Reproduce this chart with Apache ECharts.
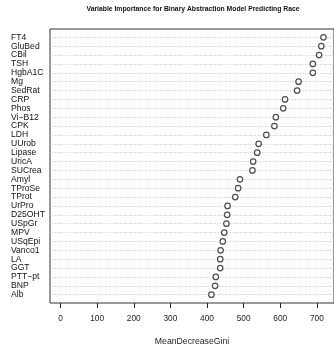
<!DOCTYPE html>
<html>
<head>
<meta charset="utf-8">
<script src="https://cdn.jsdelivr.net/npm/echarts@6/dist/echarts.min.js"></script>
<style>html,body{margin:0;padding:0;background:#fff;}#c{width:334px;height:356px;}</style>
</head>
<body>
<div id="c"></div>
<script>
var variables = ["FT4","GluBed","CBil","TSH","HgbA1C","Mg","SedRat","CRP","Phos","Vi\u2212B12","CPK","LDH","UUrob","Lipase","UricA","SUCrea","Amyl","TProSe","TProt","UrPro","D25OHT","USpGr","MPV","USqEpi","Vanco1","LA","GGT","PTT\u2212pt","BNP","Alb"];
var giniValues = [718,712,706,689,689,650,646,613,608,588,584,562,541,537,526,524,490,485,477,456,455,453,447,443,437,436,436,424,422,412];
var xTicks = [0,100,200,300,400,500,600,700];
var titleText = "Variable Importance for Binary Abstraction Model Predicting Race";
var xAxisTitle = "MeanDecreaseGini";

var xMax = Math.max.apply(null, giniValues);
var xMinExt = -0.04 * xMax, xMaxExt = xMax * 1.04;
var font = "Liberation Sans, Arial, Helvetica, sans-serif";

var chart = echarts.init(document.getElementById('c'), null, {renderer: 'canvas'});
chart.setOption({
  animation: false,
  backgroundColor: '#fff',
  title: {
    text: titleText, left: 188, top: 1, textAlign: 'center',
    textStyle: {fontFamily: font, fontSize: 6.8, fontWeight: 'bold', color: '#111'}
  },
  grid: [
    {left: 50, top: 29, width: 288, height: 274, show: true, borderColor: '#333', borderWidth: 1, backgroundColor: 'transparent'},
    {left: 50, top: 37.3, width: 288, height: 257.4}
  ],
  xAxis: [
    {gridIndex: 0, type: 'value', min: xMinExt, max: xMaxExt, position: 'bottom',
     axisLine: {show: false},
     axisTick: {show: true, length: 5, inside: false, customValues: xTicks, lineStyle: {color: '#222'}},
     axisLabel: {show: true, customValues: xTicks, margin: 12, fontFamily: font, fontSize: 8.3, color: '#222'},
     splitLine: {show: false},
     name: xAxisTitle, nameLocation: 'middle', nameGap: 34,
     nameTextStyle: {fontFamily: font, fontSize: 8.7, color: '#222'}},
    {gridIndex: 1, type: 'value', min: xMinExt, max: xMaxExt, show: false}
  ],
  yAxis: [
    {gridIndex: 0, type: 'value', min: 0, max: 1, show: false},
    {gridIndex: 1, type: 'category', data: variables, inverse: true, boundaryGap: false,
     axisLine: {show: false}, axisTick: {show: false},
     axisLabel: {interval: 0, align: 'left', margin: 39, fontFamily: font, fontSize: 8.6, color: '#111'},
     splitLine: {show: true, interval: 0, lineStyle: {color: '#bbb', type: [1, 1.5], width: 0.8}}}
  ],
  series: [{
    type: 'scatter', xAxisIndex: 1, yAxisIndex: 1,
    data: giniValues.map(function (v, i) { return [v, variables[i]]; }),
    symbol: 'circle', symbolSize: 5.5, clip: false,
    itemStyle: {color: '#fff', borderColor: '#222', borderWidth: 1.2}
  }]
});
</script>
</body>
</html>
